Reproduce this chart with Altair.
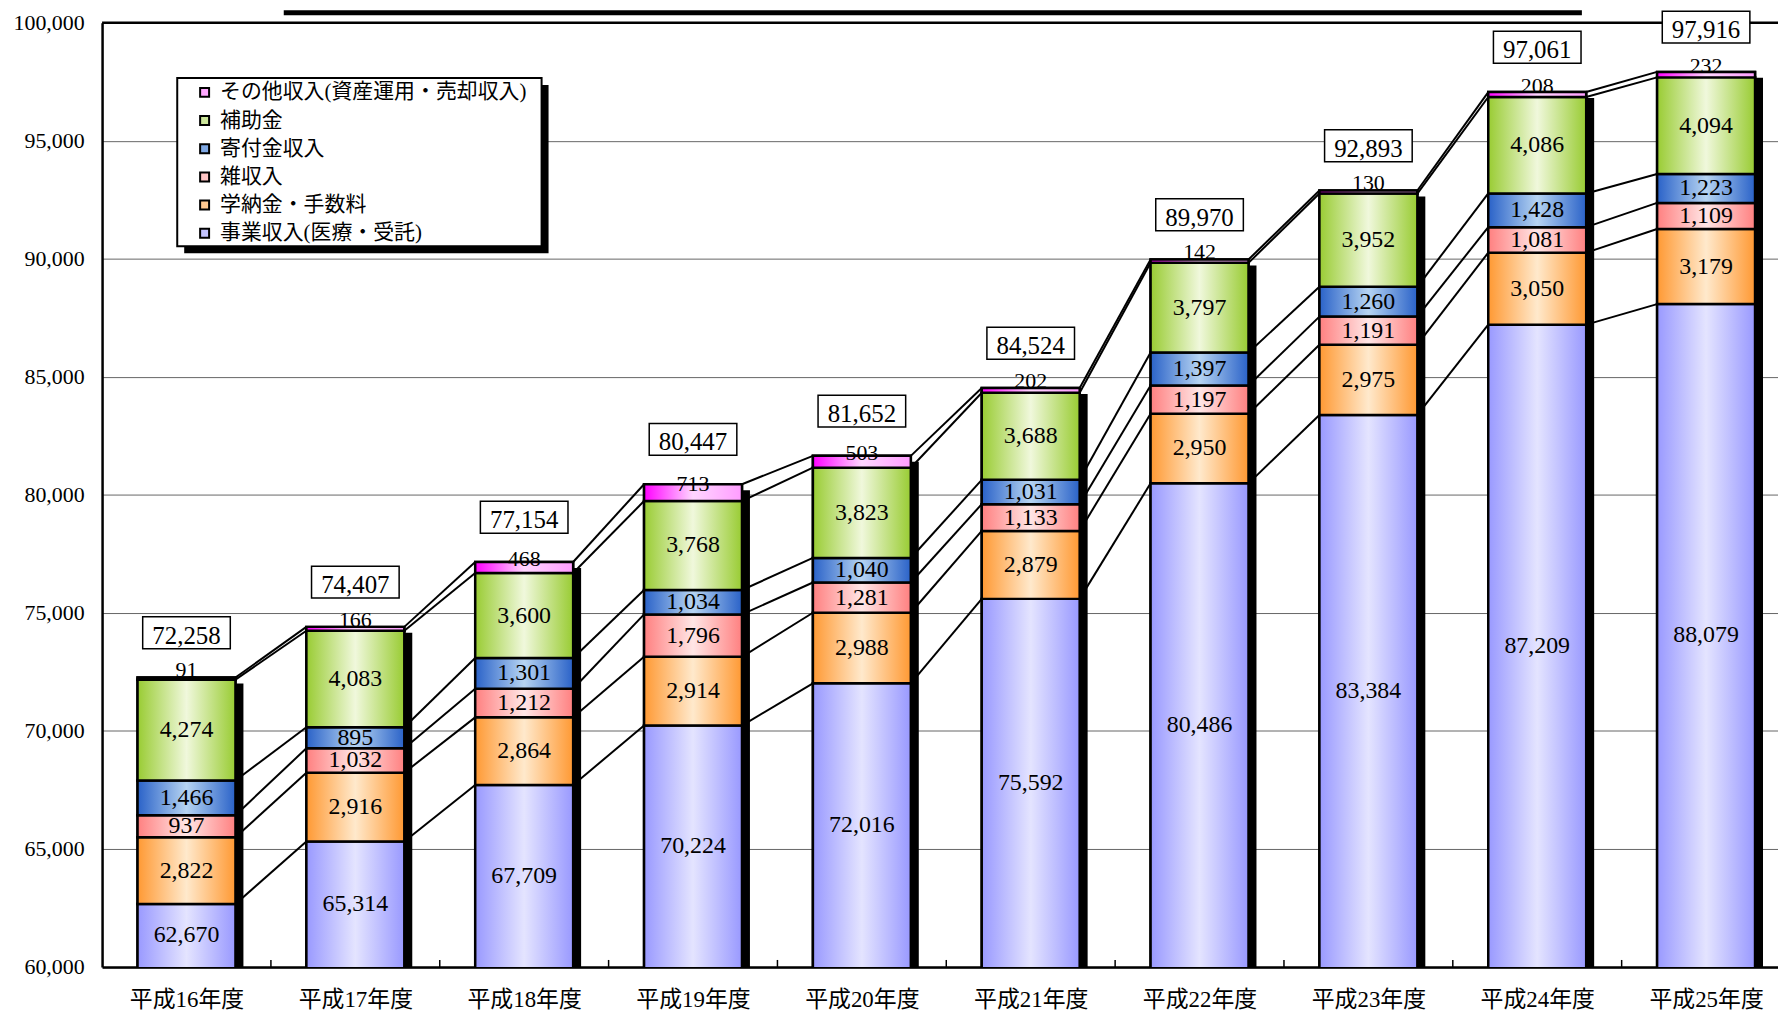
import altair as alt
import pandas as pd

CATEGORIES = ["平成16年度", "平成17年度", "平成18年度", "平成19年度", "平成20年度",
              "平成21年度", "平成22年度", "平成23年度", "平成24年度", "平成25年度"]
SERIES = ["事業収入(医療・受託)", "学納金・手数料", "雑収入", "寄付金収入", "補助金",
          "その他収入(資産運用・売却収入)"]
JIGYO = [62670, 65314, 67709, 70224, 72016, 75592, 80486, 83384, 87209, 88079]
GAKUNO = [2822, 2916, 2864, 2914, 2988, 2879, 2950, 2975, 3050, 3179]
ZATSU = [937, 1032, 1212, 1796, 1281, 1133, 1197, 1191, 1081, 1109]
KIFU = [1466, 895, 1301, 1034, 1040, 1031, 1397, 1260, 1428, 1223]
HOJO = [4274, 4083, 3600, 3768, 3823, 3688, 3797, 3952, 4086, 4094]
SONOTA = [91, 166, 468, 713, 503, 202, 142, 130, 208, 232]
TOTALS = [72258, 74407, 77154, 80447, 81652, 84524, 89970, 92893, 97061, 97916]
Y_TICKS = [60000, 65000, 70000, 75000, 80000, 85000, 90000, 95000, 100000]

VALUES = [JIGYO, GAKUNO, ZATSU, KIFU, HOJO, SONOTA]
DARK = ["#9999FF", "#FF9933", "#FF8080", "#2A62C8", "#99CC33", "#FF00FF"]
LIGHT = ["#E4E4FF", "#FFE9CC", "#FFE6E6", "#B6D4F2", "#F0F8DC", "#FFD6FF"]
RIGHT = ["#9999FF", "#FF9933", "#FF8080", "#2A62C8", "#99CC33", "#FF9CFF"]
LEGEND_SWATCH = ["#C4C4FF", "#FFC890", "#FFC4C4", "#7FA8E4", "#CCE69A", "#FFA8FF"]

FONT = "Liberation Serif, Noto Sans CJK JP"
YMIN, YMAX = 60000, 100000
HALF = 0.29

# ---- build tables ----
rows = []
for i, cat in enumerate(CATEGORIES):
    cum = 0
    for s, name in enumerate(SERIES):
        v = VALUES[s][i]
        lo, hi = cum, cum + v
        cum = hi
        rows.append(dict(idx=i, cat=cat, series=name, sidx=s, value=v, lo=lo, hi=hi,
                         mid=(max(lo, YMIN) + hi) / 2, x0=i - HALF, x1=i + HALF))
seg = pd.DataFrame(rows)

tops = seg.groupby("idx")["hi"].max().reset_index().rename(columns={"hi": "top"})
tops["x0"] = tops["idx"] - HALF
tops["x1"] = tops["idx"] + HALF
tops["base"] = YMIN
tops["total"] = TOTALS

conn = []
for i in range(len(CATEGORIES) - 1):
    a = seg[seg.idx == i].sort_values("sidx")
    b = seg[seg.idx == i + 1].sort_values("sidx")
    for ya, yb in zip(a["hi"].tolist(), b["hi"].tolist()):
        conn.append(dict(xa=i + HALF, xb=i + 1 - HALF, ya=ya, yb=yb))
conn = pd.DataFrame(conn)

bounds = pd.DataFrame({"b": [i + 0.5 for i in range(len(CATEGORIES) - 1)]})

# ---- scales / axes ----
label_expr = "[" + ",".join("'%s'" % c for c in CATEGORIES) + "][datum.value]"
xscale = alt.Scale(domain=[-0.5, 9.426], nice=False, zero=False)
yscale = alt.Scale(domain=[YMIN, YMAX], nice=False, zero=False)
xaxis = alt.Axis(values=list(range(len(CATEGORIES))), labelExpr=label_expr, grid=False,
                 ticks=False, domainColor="black", domainWidth=2.5, labelFont=FONT,
                 labelFontSize=23, labelColor="black", labelPadding=22,
                 labelFlush=False, labelOverlap=False)
yaxis = alt.Axis(values=Y_TICKS, labelExpr="format(datum.value, ',')", grid=True,
                 gridColor="#666666", gridWidth=1,
                 ticks=False, domainColor="black", domainWidth=2.5, labelFont=FONT,
                 labelFontSize=22, labelColor="black", labelPadding=18,
                 labelFlush=False, labelOverlap=False)


def X(f):
    return alt.X(f + ":Q", scale=xscale, axis=xaxis, title=None)


def Y(f):
    return alt.Y(f + ":Q", scale=yscale, axis=yaxis, title=None)


one = pd.DataFrame({"k": [0]})
LEG_X, LEG_Y, LEG_W, LEG_H = 75.5, 55.5, 366, 169

title_bar = alt.Chart(one).mark_rect(color="black").encode(
    x=alt.value(182.5), x2=alt.value(1486.5), y=alt.value(-12.5), y2=alt.value(-7.5))
leg_shadow = alt.Chart(one).mark_rect(color="black").encode(
    x=alt.value(LEG_X + 7), x2=alt.value(LEG_X + LEG_W + 7),
    y=alt.value(LEG_Y + 7), y2=alt.value(LEG_Y + LEG_H + 7))
leg_box = alt.Chart(one).mark_rect(fill="white", stroke="black", strokeWidth=2).encode(
    x=alt.value(LEG_X), x2=alt.value(LEG_X + LEG_W),
    y=alt.value(LEG_Y), y2=alt.value(LEG_Y + LEG_H))

top_line = alt.Chart(one).mark_rule(color="black", strokeWidth=2.5).encode(
    y=alt.datum(YMAX, scale=yscale, axis=yaxis), x=alt.value(0), x2=alt.value(1683.5))

connectors = alt.Chart(conn).mark_rule(color="black", strokeWidth=2).encode(
    x=X("xa"), x2=alt.X2("xb"), y=Y("ya"), y2=alt.Y2("yb"))

shadows = alt.Chart(tops).mark_rect(color="black", xOffset=8, x2Offset=8, yOffset=6,
                                    clip=True).encode(
    x=X("x0"), x2=alt.X2("x1"), y=Y("top"), y2=alt.Y2("base"))

legend_order = list(reversed(SERIES))
legend_range = list(reversed(LEGEND_SWATCH))
solid = alt.Chart(seg).mark_rect(stroke="black", strokeWidth=2.5, clip=True).encode(
    x=X("x0"), x2=alt.X2("x1"), y=Y("lo"), y2=alt.Y2("hi"),
    color=alt.Color("series:N", scale=alt.Scale(domain=legend_order, range=legend_range),
                    legend=alt.Legend(orient="none", legendX=LEG_X, legendY=LEG_Y,
                                      title=None, labelFont=FONT, labelFontSize=21,
                                      labelColor="black", labelLimit=500,
                                      symbolType="square", symbolSize=81,
                                      symbolStrokeColor="black", symbolStrokeWidth=2,
                                      symbolOpacity=1,
                                      padding=4, rowPadding=6.3, symbolOffset=13,
                                      labelOffset=5)))

grad_layers = []
for s, name in enumerate(SERIES):
    g = alt.LinearGradient(gradient="linear", x1=0, y1=0, x2=1, y2=0,
                           stops=[alt.GradientStop(color=DARK[s], offset=0),
                                  alt.GradientStop(color=LIGHT[s], offset=0.5),
                                  alt.GradientStop(color=RIGHT[s], offset=1)])
    grad_layers.append(
        alt.Chart(seg).transform_filter(alt.datum.sidx == s)
        .mark_rect(fill=g, stroke="black", strokeWidth=2.5, clip=True)
        .encode(x=X("x0"), x2=alt.X2("x1"), y=Y("lo"), y2=alt.Y2("hi")))

ticks_in = alt.Chart(bounds).mark_rule(color="black", strokeWidth=1.5, y2Offset=-7).encode(
    x=X("b"), y=alt.datum(YMIN, scale=yscale, axis=yaxis), y2=alt.datum(YMIN))

seg_labels = alt.Chart(seg).transform_filter(alt.datum.sidx < 5).mark_text(
    font=FONT, fontSize=24, color="black", baseline="middle").encode(
    x=alt.X("idx:Q", scale=xscale, axis=xaxis, title=None), y=Y("mid"),
    text=alt.Text("value:Q", format=","))

other_labels = alt.Chart(seg).transform_filter(alt.datum.sidx == 5).mark_text(
    font=FONT, fontSize=22, color="black", baseline="middle", dy=-9).encode(
    x=alt.X("idx:Q", scale=xscale, axis=xaxis, title=None), y=Y("mid"),
    text=alt.Text("value:Q", format=","))

box_shape = "M-1,-1.386L1,-1.386L1,-0.659L-1,-0.659Z"
total_boxes = alt.Chart(tops).mark_point(shape=box_shape, size=7744, filled=True,
                                         fill="white", stroke="black", strokeWidth=1.5,
                                         opacity=1).encode(
    x=alt.X("idx:Q", scale=xscale, axis=xaxis, title=None), y=Y("top"))
total_text = alt.Chart(tops).mark_text(font=FONT, fontSize=25, color="black",
                                       baseline="middle", dy=-42).encode(
    x=alt.X("idx:Q", scale=xscale, axis=xaxis, title=None), y=Y("top"),
    text=alt.Text("total:Q", format=","))

chart = alt.layer(
    title_bar, leg_shadow, leg_box, top_line, connectors, shadows, solid,
    *grad_layers, ticks_in, seg_labels, other_labels, total_boxes, total_text
).properties(
    width=1683.5, height=948.5,
    padding={"left": 94.5, "top": 12.5, "right": 0, "bottom": 44},
    autosize=alt.AutoSizeParams(type="none"),
    background="white",
).configure_view(stroke="transparent")

chart.save("out.html", embed_options={"renderer": "svg", "actions": False})
